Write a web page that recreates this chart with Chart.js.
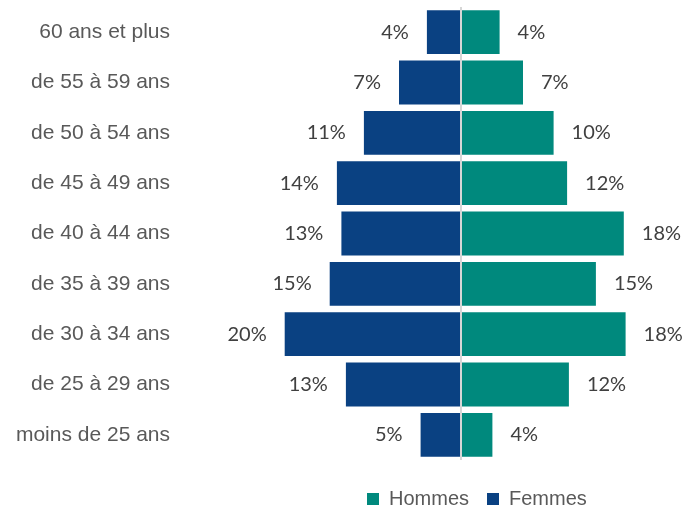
<!DOCTYPE html>
<html lang="fr">
<head>
<meta charset="utf-8">
<script src="https://cdn.jsdelivr.net/npm/chart.js@4.4.1/dist/chart.umd.min.js"></script>
<style>
  html, body { margin: 0; padding: 0; background: #ffffff; }
  #wrap { width: 687px; height: 508px; position: relative; }
</style>
</head>
<body>
<div id="wrap"><canvas id="chart-pyramid"></canvas></div>
<script>
const ageGroups = [
  "60 ans et plus", "de 55 à 59 ans", "de 50 à 54 ans", "de 45 à 49 ans",
  "de 40 à 44 ans", "de 35 à 39 ans", "de 30 à 34 ans", "de 25 à 29 ans",
  "moins de 25 ans"
];
const hommes = [4.4, 7.0, 10.4, 11.9, 18.2, 15.1, 18.4, 12.1, 3.6];
const femmes = [3.9, 7.0, 10.9, 13.9, 13.4, 14.7, 19.7, 12.9, 4.6];

const HOMMES_COLOR = "#00897d";
const FEMMES_COLOR = "#0a4182";

// percentage labels just outside the end of each bar
const barLabels = {
  id: "barLabels",
  afterDatasetsDraw(chart) {
    const ctx = chart.ctx;
    ctx.save();
    ctx.font = "20px Lato, 'Open Sans', sans-serif";
    ctx.fillStyle = "#404040";
    ctx.textBaseline = "middle";
    chart.data.datasets.forEach((ds, i) => {
      chart.getDatasetMeta(i).data.forEach((bar, j) => {
        const v = Math.abs(ds.data[j]);
        const txt = Math.round(v) + "%";
        if (bar.x < bar.base) {
          ctx.textAlign = "right";
          ctx.fillText(txt, bar.x - 17, bar.y);
        } else {
          ctx.textAlign = "left";
          ctx.fillText(txt, bar.x + 17, bar.y);
        }
      });
    });
    ctx.restore();
  }
};

// legend sits under the bars, not centred on the canvas
const legendPlace = {
  id: "legendPlace",
  afterLayout(chart) {
    const lg = chart.legend;
    lg.left = 349;
    lg.right = 687;
    lg.top += 11;
    lg.bottom += 11;
  }
};

new Chart(document.getElementById("chart-pyramid"), {
  type: "bar",
  data: {
    labels: ageGroups,
    datasets: [
      {
        label: "Hommes",
        data: hommes,
        backgroundColor: HOMMES_COLOR,
        borderColor: "rgba(255,255,255,0.55)",
        borderWidth: 1
      },
      {
        label: "Femmes",
        data: femmes.map(v => -v),
        backgroundColor: FEMMES_COLOR,
        borderColor: "rgba(255,255,255,0.55)",
        borderWidth: 1
      }
    ]
  },
  options: {
    indexAxis: "y",
    responsive: true,
    maintainAspectRatio: false,
    animation: false,
    layout: { padding: { top: 7, right: 1, bottom: 0, left: 0 } },
    datasets: {
      bar: { categoryPercentage: 1, barPercentage: 0.91 }
    },
    plugins: {
      tooltip: { enabled: false },
      legend: {
        position: "bottom",
        align: "start",
        maxHeight: 50,
        labels: {
          boxWidth: 12,
          boxHeight: 12,
          padding: 18,
          color: "#595959",
          font: { family: "'Liberation Sans', Arial, sans-serif", size: 20 },
          generateLabels: (chart) =>
            Chart.defaults.plugins.legend.labels.generateLabels(chart)
              .map(item => ({ ...item, lineWidth: 0 }))
        }
      }
    },
    scales: {
      x: {
        stacked: true,
        min: -30,
        max: 25,
        z: 1,
        border: { display: false },
        ticks: { display: false, stepSize: 5 },
        grid: {
          drawTicks: false,
          lineWidth: 2,
          color: (c) => (c.tick && c.tick.value === 0 ? "#d6d6d6" : "rgba(0,0,0,0)")
        }
      },
      y: {
        stacked: true,
        border: { display: false },
        grid: { display: false, drawTicks: false },
        ticks: {
          padding: 21,
          color: "#595959",
          font: { family: "'Liberation Sans', Arial, sans-serif", size: 21 }
        },
        afterFit: (axis) => {
          axis.width = 191;
          axis.paddingTop = 0;
          axis.paddingBottom = 0;
        }
      }
    }
  },
  plugins: [barLabels, legendPlace]
});
</script>
</body>
</html>
